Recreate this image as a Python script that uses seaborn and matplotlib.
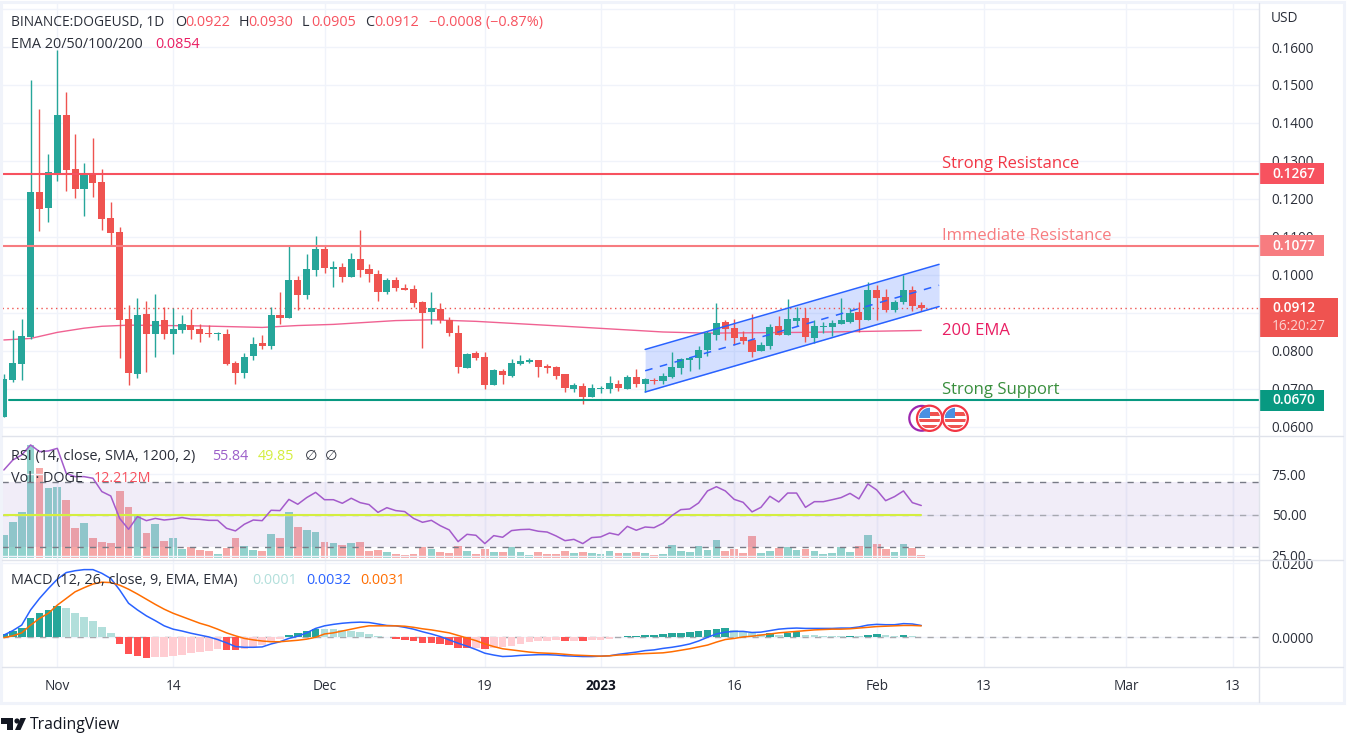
import matplotlib
matplotlib.use("Agg")
import matplotlib.pyplot as plt
from matplotlib.patches import Rectangle, Circle, Polygon
from matplotlib.ticker import NullLocator
import seaborn as sns

# ---------- data ----------
days = list(range(-6, 98))  # day offset from 1 Nov 2022

opens = [.0627,.0724,.0766,.0837,.1218,.1176,.1267,.1421,.1279,.1226,.1263,.1245,.1150,.1113,.0884,.0740,.0897,.0845,.0882,.0845,.0855,.0869,.0858,.0848,.0845,.0845,.0769,.0742,.0787,.0821,.0813,.0895,.0887,.0987,.0947,.1013,.1068,
         .1016,.1021,.0995,.1042,.1016,.1003,.0955,.0987,.0966,.0963,.0929,.0903,.0911,.0882,.0848,.0755,.0795,.0784,.0711,.0747,.0734,.0766,.0771,.0777,.0761,.0758,.0740,.0700,.0708,.0679,.0700,.0700,.0713,.0700,.0732,.0713,.0724,
         .0721,.0732,.0755,.0776,.0782,.0803,.0842,.0876,.0860,.0837,.0829,.0800,.0813,.0866,.0842,.0879,.0887,.0834,.0863,.0863,.0871,.0876,.0903,.0882,.0961,.0942,.0908,.0929,.0961,.0922]
closes = [.0726,.0769,.0840,.1218,.1174,.1271,.1421,.1276,.1226,.1263,.1242,.1147,.1110,.0882,.0742,.0895,.0845,.0879,.0845,.0858,.0871,.0855,.0845,.0845,.0848,.0766,.0742,.0784,.0818,.0813,.0895,.0887,.0987,.0947,.1016,.1068,.1018,
          .1021,.0995,.1042,.1013,.1003,.0955,.0987,.0966,.0961,.0926,.0900,.0913,.0882,.0848,.0758,.0792,.0782,.0711,.0750,.0737,.0769,.0774,.0777,.0758,.0755,.0734,.0703,.0711,.0679,.0703,.0703,.0716,.0703,.0732,.0713,.0726,.0721,
          .0734,.0758,.0779,.0782,.0803,.0847,.0874,.0858,.0834,.0826,.0797,.0816,.0863,.0842,.0884,.0887,.0837,.0866,.0866,.0874,.0882,.0900,.0882,.0961,.0940,.0908,.0929,.0961,.0919,.0912]
highs = [.0740,.0855,.0884,.1513,.1437,.1318,.1592,.1482,.1371,.1295,.1361,.1279,.1192,.1126,.0921,.0940,.0932,.0950,.0916,.0913,.0895,.0911,.0871,.0869,.0850,.0858,.0774,.0795,.0837,.0842,.0916,.0955,.1079,.0997,.1055,.1103,.1079,
         .1037,.1032,.1058,.1118,.1029,.1013,.0992,.0995,.0976,.0974,.0932,.0955,.0926,.0890,.0869,.0795,.0800,.0798,.0753,.0753,.0779,.0790,.0782,.0777,.0766,.0761,.0740,.0716,.0716,.0713,.0708,.0734,.0724,.0737,.0753,.0729,.0729,
         .0742,.0797,.0782,.0784,.0813,.0853,.0926,.0882,.0884,.0853,.0897,.0824,.0871,.0892,.0937,.0916,.0913,.0882,.0876,.0882,.0940,.0913,.0929,.0982,.0974,.0963,.0934,.1000,.0971,.0930]
lows = [.0627,.0718,.0724,.0832,.1116,.1140,.1247,.1221,.1203,.1155,.1205,.1118,.1079,.0782,.0711,.0729,.0745,.0784,.0832,.0792,.0847,.0832,.0824,.0837,.0829,.0763,.0713,.0729,.0776,.0805,.0805,.0871,.0887,.0908,.0937,.0997,.1005,
        .0969,.0982,.0995,.0995,.0982,.0932,.0950,.0958,.0961,.0916,.0808,.0871,.0874,.0840,.0742,.0755,.0776,.0700,.0711,.0713,.0732,.0763,.0769,.0732,.0742,.0726,.0692,.0692,.0661,.0679,.0690,.0690,.0695,.0700,.0705,.0692,.0713,
        .0713,.0729,.0740,.0747,.0753,.0787,.0829,.0829,.0816,.0818,.0784,.0800,.0805,.0842,.0842,.0866,.0824,.0821,.0847,.0840,.0871,.0874,.0850,.0882,.0882,.0903,.0903,.0924,.0905,.0905]

ema_days = [-6,-3,0,3,5,8,16,23,27,31,38,42,47,57,68,73,84,97]
ema200 = [.0829,.0833,.0849,.0860,.0865,.0868,.0866,.0862,.0867,.0870,.0880,.0882,.0878,.0865,.0850,.0847,.0849,.0854]

rsi = [77.7,83.8,86.9,93.1,89.0,89.4,91.0,75.6,73.6,73.6,72.6,64.4,61.7,47.9,41.2,49.0,46.5,47.9,46.9,47.5,48.4,47.5,47.3,46.7,46.7,41.8,40.2,44.3,46.9,46.5,52.9,52.7,59.6,56.6,60.7,63.9,59.4,
       59.4,57.2,60.3,57.6,56.4,51.6,54.5,52.7,52.1,47.9,45.5,46.7,43.4,40.8,33.6,38.1,37.5,32.4,37.3,36.3,40.4,41.0,41.2,40.0,39.5,37.1,34.2,35.0,32.4,36.1,36.5,38.9,37.7,43.0,40.6,42.6,42.2,
       44.9,49.6,53.3,53.7,57.4,64.8,67.4,64.8,59.6,57.8,51.9,54.7,61.5,58.0,63.5,63.5,54.7,58.2,58.2,59.4,60.7,63.3,59.9,69.1,65.4,58.8,61.3,64.8,57.6,55.84]
volume = [94,147,187,460,366,285,289,236,122,142,81,65,61,273,208,175,102,138,69,81,37,45,33,28,16,41,81,49,33,28,98,81,187,126,114,106,65,
          61,53,61,65,28,33,24,16,12,16,45,37,24,20,49,28,16,37,24,24,45,24,12,24,16,16,28,20,24,20,16,28,20,20,24,20,12,
          16,53,28,24,49,33,73,28,37,20,90,20,28,41,45,33,37,28,16,20,45,24,49,94,57,37,24,57,41,12.212]

macd_hist = [.0009,.0017,.0025,.0052,.0066,.0074,.0085,.0079,.0066,.0055,.0044,.0028,.0012,-.0018,-.0045,-.0050,-.0056,-.0053,-.0053,-.0050,-.0048,-.0042,-.0040,-.0037,-.0032,-.0034,-.0035,-.0032,-.0026,-.0021,-.0013,-.0005,.0006,.0012,.0017,.0023,.0023,
             .0023,.0020,.0018,.0014,.0009,.0003,.00005,-.0005,-.0007,-.0010,-.0015,-.0016,-.0018,-.0021,-.0028,-.0030,-.0029,-.0032,-.0029,-.0026,-.0023,-.0018,-.0013,-.0010,-.0010,-.0007,-.0010,-.0009,-.0010,-.0007,-.0007,-.0005,.0001,.0003,.00035,.0005,.00055,
             .0009,.0012,.00125,.0014,.0017,.0020,.0023,.0024,.0020,.0014,.0012,.0009,.0012,.0006,.0012,.0014,.0006,.0006,.0004,.0004,.0003,.0004,.0003,.0006,.0009,.0006,.0004,.0006,.0004,.0001]
macd_line = [.0006,.0018,.0033,.0074,.0105,.0132,.0157,.0175,.0180,.0183,.0183,.0173,.0159,.0128,.0092,.0074,.0058,.0045,.0031,.0022,.0017,.0011,.0006,.0001,-.0006,-.0015,-.0025,-.0027,-.0027,-.0026,-.0018,-.0012,-.0003,.0003,.0012,.0024,.0031,
             .0035,.0038,.0040,.0041,.0040,.0036,.0032,.0031,.0027,.0022,.0015,.0009,.0002,-.0007,-.0016,-.0024,-.0033,-.0043,-.0048,-.0052,-.0051,-.0049,-.0048,-.0047,-.0047,-.0048,-.0050,-.0051,-.0052,-.0052,-.0051,-.0050,-.0046,-.0043,-.0040,-.0036,-.0034,
             -.0030,-.0027,-.0023,-.0018,-.0010,0,.0009,.0014,.0016,.0016,.0013,.0014,.0018,.0022,.0024,.0025,.0024,.0024,.0024,.0024,.0025,.0025,.0028,.0033,.0035,.0034,.0034,.0037,.0036,.0032]
signal_line = [-.0001,.0004,.0012,.0033,.0051,.0065,.0087,.0105,.0123,.0134,.0144,.0149,.0148,.0141,.0130,.0117,.0103,.0089,.0076,.0065,.0056,.0047,.0038,.0031,.0022,.0012,.0004,-.0003,-.0007,-.0010,-.0012,-.0012,-.0010,-.0008,-.0005,0,.0009,
               .0012,.0017,.0022,.0027,.0031,.0031,.0031,.0031,.0030,.0027,.0023,.0020,.0016,.0012,.0005,-.0002,-.0009,-.0018,-.0025,-.0031,-.0034,-.0037,-.0040,-.0042,-.0043,-.0044,-.0046,-.0048,-.0049,-.0050,-.0051,-.0050,-.0048,-.0047,-.0045,-.0044,-.0043,
               -.0042,-.0039,-.0035,-.0031,-.0026,-.0021,-.0013,-.0006,-.0003,.0001,.0003,.0006,.0009,.0012,.0014,.0016,.0018,.0020,.0021,.0022,.0022,.0023,.0025,.0027,.0029,.0030,.0031,.0032,.0032,.0031]

level_strong_res = 0.1267
level_immediate_res = 0.1077
level_support = 0.0670
last_close = 0.0912
rsi_ma = 49.85

channel_days = [66, 99]
channel_upper = [.0804, .1028]
channel_mid = [.0748, .0973]
channel_lower = [.0692, .0917]

time_ticks = [0, 13, 30, 48, 61, 76, 92, 104, 120, 132]
time_labels = ["Nov", "14", "Dec", "19", "2023", "16", "Feb", "13", "Mar", "13"]
price_ticks = [.06, .07, .08, .09, .10, .11, .12, .13, .14, .15, .16, .17]
price_labels = ["0.0600", "0.0700", "0.0800", "", "0.1000", "0.1100", "0.1200", "0.1300", "0.1400", "0.1500", "0.1600", ""]
rsi_ticks = [25, 50, 75]
rsi_labels = ["25.00", "50.00", "75.00"]
macd_ticks = [0, .02]
macd_labels = ["0.0000", "0.0200"]

# ---------- style ----------
W, H = 1357, 746
GREEN, RED = "#26a69a", "#ef5350"
GRID, SEP, TXT = "#f0f3fa", "#e0e3eb", "#2a2e39"
FS = 9.8
LFS = 10.4
sns.set_theme(style="white")
plt.rcParams["font.family"] = ["Open Sans", "DejaVu Sans"]
plt.rcParams["axes.unicode_minus"] = False

fig = plt.figure(figsize=(W / 100, H / 100), dpi=100, facecolor="white")


def pane(top, bottom, z=2):
    a = fig.add_axes([2 / W, 1 - bottom / H, (1259 - 2) / W, (bottom - top) / H], zorder=z)
    a.set_xlim(-6.21, 134.92)
    for s in a.spines.values():
        s.set_visible(False)
    return a


def style_right(a, ticks, labels):
    a.yaxis.tick_right()
    a.set_yticks(ticks)
    a.set_yticklabels(labels)
    a.tick_params(axis="y", length=0, pad=9.2, labelsize=FS, labelcolor=TXT, labelright=True, labelleft=False)
    a.set_xticks(time_ticks)
    a.tick_params(axis="x", length=0, labelbottom=False)
    a.set_xlabel("")
    a.set_ylabel("")
    a.grid(True, color=GRID, lw=1)
    a.set_axisbelow(True)


# ---------- price pane ----------
ax = pane(3, 435)
ax.set_ylim(0.05789, 0.17158)
style_right(ax, price_ticks, price_labels)

ax.fill_between(channel_days, channel_lower, channel_upper, color="#2962ff", alpha=0.2, lw=0, zorder=1)
sns.lineplot(x=ema_days, y=ema200, color="#f06292", lw=1.0, errorbar=None, ax=ax, zorder=2)
ax.axhline(last_close, color=RED, lw=1, ls=(0, (1, 2.5)), zorder=2)

bar_colors = [GREEN if c >= o else RED for o, c in zip(opens, closes)]
ax.vlines(days, lows, highs, colors=bar_colors, lw=1.0, zorder=3)
ax.bar(days, [max(abs(c - o), 1e-5) for o, c in zip(opens, closes)],
       bottom=[min(o, c) for o, c in zip(opens, closes)], width=0.8, color=bar_colors, lw=0, zorder=3)

for vals, ls in ((channel_upper, "-"), (channel_lower, "-"), (channel_mid, (0, (5, 5)))):
    ax.plot(channel_days, vals, color="#2962ff", lw=1.1, ls=ls, zorder=4)

ax.axhline(level_strong_res, color="#f7525f", lw=1.5, zorder=5)
ax.axhline(level_immediate_res, color="#f77c80", lw=1.5, zorder=5)
ax.plot([-5.4, 134.92], [level_support, level_support], color="#089981", lw=1.5, zorder=5)
ax.set_xlim(-6.21, 134.92)

notes = [(99.3, 0.1292, "Strong Resistance", "#f23645"),
         (99.3, 0.1102, "Immediate Resistance", "#f77c80"),
         (99.3, 0.0853, "200 EMA", "#e91e63"),
         (99.3, 0.0698, "Strong Support", "#388e3c")]
for dx, py, s, col in notes:
    ax.text(dx, py, s, color=col, fontsize=12, va="center", ha="left", zorder=6)

# ---------- volume + RSI pane ----------
ax_vol = pane(436, 560, z=1)
vol_colors = [(0.149, 0.651, 0.604, 0.5) if c >= o else (0.937, 0.325, 0.314, 0.5) for o, c in zip(opens, closes)]
ax_vol.bar(days, volume, width=0.87, color=vol_colors, lw=0, zorder=2)
ax_vol.set_xlim(-6.21, 134.92)
ax_vol.set_ylim(-8, 496.5)
ax_vol.yaxis.set_major_locator(NullLocator())
ax_vol.set_xticks(time_ticks)
ax_vol.tick_params(axis="x", length=0, labelbottom=False)
ax_vol.grid(True, axis="x", color=GRID, lw=1)
ax_vol.set_axisbelow(True)

ax_rsi = pane(436, 560, z=2)
ax_rsi.patch.set_visible(False)
ax_rsi.set_ylim(22.3, 98.6)
style_right(ax_rsi, rsi_ticks, rsi_labels)
ax_rsi.axhspan(30, 70, color="#7e57c2", alpha=0.1, lw=0, zorder=1)
for lvl, col in ((70, "#787b86"), (50, "#a6a8b0"), (30, "#787b86")):
    ax_rsi.axhline(lvl, color=col, lw=1, ls=(0, (4.5, 4.5)), zorder=2)
sns.lineplot(x=[days[0], days[-1]], y=[rsi_ma, rsi_ma], color="#d4ee3f", lw=1.5, errorbar=None, ax=ax_rsi, zorder=3)
sns.lineplot(x=days, y=rsi, color="#a45bcb", lw=1.1, errorbar=None, ax=ax_rsi, zorder=4)
ax_rsi.set_xlim(-6.21, 134.92)
ax_rsi.set_xlabel("")
ax_rsi.set_ylabel("")

# ---------- MACD pane ----------
ax_m = pane(560, 667)
ax_m.set_ylim(-0.00803, 0.0209)
hist_colors = []
prev = 0.0
for h in macd_hist:
    if h >= 0:
        hist_colors.append(GREEN if h > prev else "#b2dfdb")
    else:
        hist_colors.append("#ff5252" if h < prev else "#ffcdd2")
    prev = h
ax_m.axhline(0, color="#a8a8ad", lw=1, ls=(0, (4.5, 4.5)), zorder=1)
ax_m.bar(days, macd_hist, width=0.86, color=hist_colors, lw=0, zorder=2)
sns.lineplot(x=days, y=macd_line, color="#2962ff", lw=1.1, errorbar=None, ax=ax_m, zorder=3)
sns.lineplot(x=days, y=signal_line, color="#ff6d00", lw=1.1, errorbar=None, ax=ax_m, zorder=4)
ax_m.set_xlim(-6.21, 134.92)
style_right(ax_m, macd_ticks, macd_labels)
ax_m.tick_params(axis="x", labelbottom=True, labelsize=FS, labelcolor=TXT, pad=9)
ax_m.set_xticklabels(time_labels)
for lab in ax_m.get_xticklabels():
    if lab.get_text() == "2023":
        lab.set_fontweight("bold")
        lab.set_color("#131722")

# ---------- overlay: frame, separators, legends, price tags, logo ----------
ov = fig.add_axes([0, 0, 1, 1], zorder=10)
ov.set_xlim(0, W)
ov.set_ylim(H, 0)
ov.axis("off")

ov.add_patch(Rectangle((1, 1.5), 1343, 701, fill=False, ec="#f0f3fa", lw=2.2))
for yy in (435.5, 560, 667):
    ov.plot([2, 1343], [yy, yy], color=SEP, lw=1)
ov.plot([1259, 1259], [3, 702], color=SEP, lw=1)


def T(x, y, s, color=TXT, size=FS, weight="normal", ha="left"):
    ov.text(x, y, s, color=color, fontsize=size, fontweight=weight, va="center", ha=ha)


PR = "#f7525f"
T(11, 22.5, "BINANCE:DOGEUSD, 1D", size=9.95)
for xl, lab, xv, val in ((175, "O", 185, "0.0922"), (239, "H", 248, "0.0930"), (302, "L", 311, "0.0905"), (365, "C", 374, "0.0912")):
    T(xl, 22.5, lab, size=LFS)
    T(xv, 22.5, val, color=PR, size=LFS)
T(429, 22.5, "−0.0008 (−0.87%)", color=PR, size=LFS)
T(11, 44.5, "EMA 20/50/100/200", size=LFS)
T(155, 44.5, "0.0854", color="#e91e63", size=LFS)
T(11, 456.5, "RSI (14, close, SMA, 1200, 2)", size=LFS)
T(212, 456.5, "55.84", color="#9c5fc9", size=LFS)
T(258, 456.5, "49.85", color="#d4ee3f", size=LFS)
T(305, 456.5, "∅", size=LFS)
T(325, 456.5, "∅", size=LFS)
T(11, 478.5, "Vol · DOGE", size=LFS)
T(94, 478.5, "12.212M", color=PR, size=LFS)
T(11, 580.5, "MACD (12, 26, close, 9, EMA, EMA)", size=LFS)
T(252, 580.5, "0.0001", color="#b2dfdb", size=LFS)
T(306, 580.5, "0.0032", color="#2962ff", size=LFS)
T(360, 580.5, "0.0031", color="#ff6d00", size=LFS)
T(1271, 19, "USD")


def price_px(p):
    return ov.transData.inverted().transform(ax.transData.transform((0, p)))[1]


for p, col in ((level_strong_res, "#f7525f"), (level_immediate_res, "#f77c80"), (level_support, "#089981")):
    yc = price_px(p)
    ov.add_patch(Rectangle((1259, yc - 10.5), 65, 21, color=col, lw=0))
    T(1272, yc, f"{p:.4f}", color="white", weight="semibold")

yc = price_px(last_close)
ov.add_patch(Rectangle((1259, yc - 10.5), 79, 39, color=RED, lw=0))
T(1272, yc, f"{last_close:.4f}", color="white", weight="semibold")
T(1272, yc + 18.5, "16:20:27", color="#fbd3d2")

# event flags
ov.add_patch(Circle((921.7, 418.3), 12.4, fc="white", ec="#9c27b0", lw=1.6))
for cx in (929.6, 955.3):
    ov.add_patch(Circle((cx, 418.3), 12.6, fc="white", ec="#f23645", lw=1.6))
    clip = Circle((cx, 418.3), 10.5, transform=ov.transData)
    for sy in (414, 420.5, 426.5):
        r = Rectangle((cx - 11, sy - 1.6), 22, 3.2, color="#f05350", lw=0)
        ov.add_patch(r)
        r.set_clip_path(clip)
    c = Rectangle((cx - 11, 407), 11, 11, color="#4a90e2", lw=0)
    ov.add_patch(c)
    c.set_clip_path(clip)

# logo
DK = "#131722"
ov.add_patch(Polygon([(1, 718), (13, 718), (13, 730), (7, 730), (7, 724), (1, 724)], color=DK, lw=0))
ov.add_patch(Circle((17, 721), 2.6, color=DK, lw=0))
ov.add_patch(Polygon([(15, 730), (20.5, 730), (26, 718), (20.5, 718)], color=DK, lw=0))
T(30, 725, "TradingView", color=DK, size=11.3)

fig.savefig("out.png", dpi=100, facecolor="white")
